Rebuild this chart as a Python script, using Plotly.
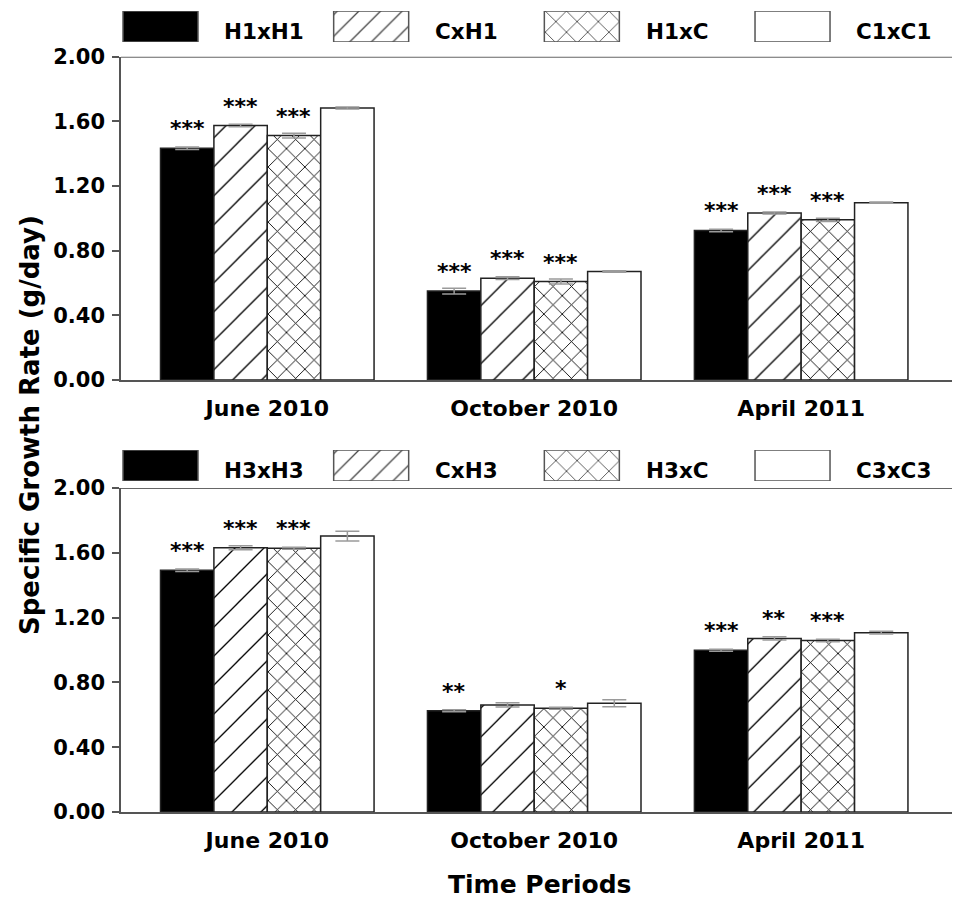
import plotly.graph_objects as go

# ---------------- data ----------------
PERIODS = ["June 2010", "October 2010", "April 2011"]
Y_TICKS = [0.0, 0.4, 0.8, 1.2, 1.6, 2.0]

TOP_NAMES = ["H1xH1", "CxH1", "H1xC", "C1xC1"]
TOP_VALUES = [
    [1.433, 0.550, 0.925],   # H1xH1
    [1.574, 0.630, 1.033],   # CxH1
    [1.512, 0.609, 0.991],   # H1xC
    [1.683, 0.671, 1.097],   # C1xC1
]
TOP_ERRORS = [
    [0.008, 0.018, 0.008],
    [0.008, 0.008, 0.006],
    [0.015, 0.015, 0.010],
    [0.006, 0.005, 0.004],
]
TOP_SIG = [
    ["***", "***", "***"],
    ["***", "***", "***"],
    ["***", "***", "***"],
    ["", "", ""],
]

BOT_NAMES = ["H3xH3", "CxH3", "H3xC", "C3xC3"]
BOT_VALUES = [
    [1.492, 0.625, 0.999],   # H3xH3
    [1.631, 0.661, 1.071],   # CxH3
    [1.628, 0.640, 1.059],   # H3xC
    [1.703, 0.671, 1.107],   # C3xC3
]
BOT_ERRORS = [
    [0.008, 0.006, 0.006],
    [0.012, 0.013, 0.010],
    [0.006, 0.006, 0.008],
    [0.030, 0.022, 0.008],
]
BOT_SIG = [
    ["***", "**", "***"],
    ["***", "", "**"],
    ["***", "*", "***"],
    ["", "", ""],
]

# ---------------- styles ----------------
FILL = ["black", "white", "white", "white"]
PATTERN = ["", "/", "x", ""]
PAT_SIZE = [8, 20.5, 13, 8]
PAT_SOLID = [0.3, 0.065, 0.13, 0.3]
LEG_PAT_SIZE = [8, 15.3, 15, 8]
LEG_PAT_SOLID = [0.3, 0.085, 0.11, 0.3]

FONT = "DejaVu Sans"
AXIS_GREY = "#555555"
EDGE = "#222222"
BAR_W = 0.2

fig = go.Figure()

panels = [
    (TOP_NAMES, TOP_VALUES, TOP_ERRORS, TOP_SIG, "x", "y"),
    (BOT_NAMES, BOT_VALUES, BOT_ERRORS, BOT_SIG, "x2", "y2"),
]

annotations = []
shapes = []
xpos = list(range(len(PERIODS)))

for names, values, errors, sigs, xa, ya in panels:
    n = len(names)
    for j in range(n):
        fig.add_trace(go.Bar(
            x=xpos, y=values[j], name=names[j],
            xaxis=xa, yaxis=ya,
            marker=dict(
                color=FILL[j],
                line=dict(color=EDGE, width=1.5),
                pattern=dict(shape=PATTERN[j], fgcolor="black", bgcolor=FILL[j],
                             fgopacity=1, fillmode="overlay", size=PAT_SIZE[j],
                             solidity=PAT_SOLID[j]),
            ),
            error_y=dict(type="data", array=errors[j], color="#9a9a9a",
                         thickness=1.5, width=12),
            showlegend=False, hoverinfo="skip",
        ))
        for i in xpos:
            if sigs[j][i]:
                annotations.append(dict(
                    x=i + (j - (n - 1) / 2) * BAR_W, y=values[j][i],
                    xref=xa, yref=ya, text=sigs[j][i], showarrow=False,
                    xanchor="center", yanchor="bottom", yshift=5,
                    font=dict(family=FONT, size=22, color="black", weight="bold"),
                ))
    # top frame line
    shapes.append(dict(type="line", xref=f"{xa} domain", yref=ya,
                       x0=0, x1=1, y0=2.0, y1=2.0,
                       line=dict(color="#666666", width=2)))

# legends drawn as bar swatches on their own hidden axes
legends = [(TOP_NAMES, "x3", "y3"), (BOT_NAMES, "x4", "y4")]
LEG_W = 0.356
for names, xa, ya in legends:
    lx = list(range(len(names)))
    fig.add_trace(go.Bar(
        x=lx, y=[1] * len(names), width=LEG_W, xaxis=xa, yaxis=ya,
        marker=dict(
            color=FILL,
            line=dict(color=AXIS_GREY, width=1.5),
            pattern=dict(shape=PATTERN, fgcolor="black", bgcolor=FILL,
                         fgopacity=1, fillmode="overlay", size=LEG_PAT_SIZE,
                         solidity=LEG_PAT_SOLID),
        ),
        showlegend=False, hoverinfo="skip",
    ))
    for i, nm in enumerate(names):
        annotations.append(dict(
            x=i + LEG_W / 2 + 0.115, y=0, xref=xa, yref=ya, text=nm,
            showarrow=False, xanchor="left", yanchor="bottom", yshift=-4,
            font=dict(family=FONT, size=21.5, color="black", weight="bold"),
        ))

# axis titles
annotations.append(dict(
    text="Specific Growth Rate (g/day)", textangle=-90,
    x=-0.1085, y=0.4825, xref="paper", yref="paper",
    xanchor="center", yanchor="middle", showarrow=False,
    font=dict(family=FONT, size=26, color="black", weight="bold"),
))
annotations.append(dict(
    text="Time Periods", x=0.4994, y=-0.0898, xref="paper", yref="paper",
    xanchor="center", yanchor="middle", showarrow=False,
    font=dict(family=FONT, size=25, color="black", weight="bold"),
))

xaxis_common = dict(
    range=[-0.548, 2.595], tickvals=xpos, ticktext=PERIODS,
    showline=True, linecolor=AXIS_GREY, linewidth=1.5, ticks="",
    showgrid=False, zeroline=False, ticklabelstandoff=8, automargin=False,
    tickfont=dict(family=FONT, size=22, color="black", weight="bold"),
    domain=[0, 1],
)
yaxis_common = dict(
    range=[0, 2], tickvals=Y_TICKS, tickformat=".2f",
    ticks="outside", ticklen=7, tickwidth=1.5, tickcolor=AXIS_GREY,
    showline=True, linecolor=AXIS_GREY, linewidth=1.5, automargin=False,
    showgrid=False, zeroline=False, ticklabelstandoff=3,
    tickfont=dict(family=FONT, size=21, color="black", weight="bold"),
)
hidden_x = dict(range=[-LEG_W / 2 - 0.0095, 3.795], visible=False,
                domain=[0, 1], automargin=False)
hidden_y = dict(range=[0, 1], visible=False, automargin=False)

# page body has an 8px margin, so the figure is sized/offset to compensate
fig.update_layout(
    width=952, height=891,
    margin=dict(l=113, r=0, t=2, b=87, autoexpand=False),
    paper_bgcolor="white", plot_bgcolor="white",
    barmode="group", bargap=0.2, bargroupgap=0,
    showlegend=False,
    xaxis=dict(**xaxis_common, anchor="y"),
    yaxis=dict(**yaxis_common, domain=[0.5387, 0.9418], anchor="x"),
    xaxis2=dict(**xaxis_common, anchor="y2"),
    yaxis2=dict(**yaxis_common, domain=[0.0, 0.4040], anchor="x2"),
    xaxis3=dict(**hidden_x, anchor="y3"),
    yaxis3=dict(**hidden_y, domain=[0.9601, 0.9988], anchor="x3"),
    xaxis4=dict(**hidden_x, anchor="y4"),
    yaxis4=dict(**hidden_y, domain=[0.4127, 0.4514], anchor="x4"),
    annotations=annotations,
    shapes=shapes,
    font=dict(family=FONT, color="black"),
)

fig.write_html("out.html")
